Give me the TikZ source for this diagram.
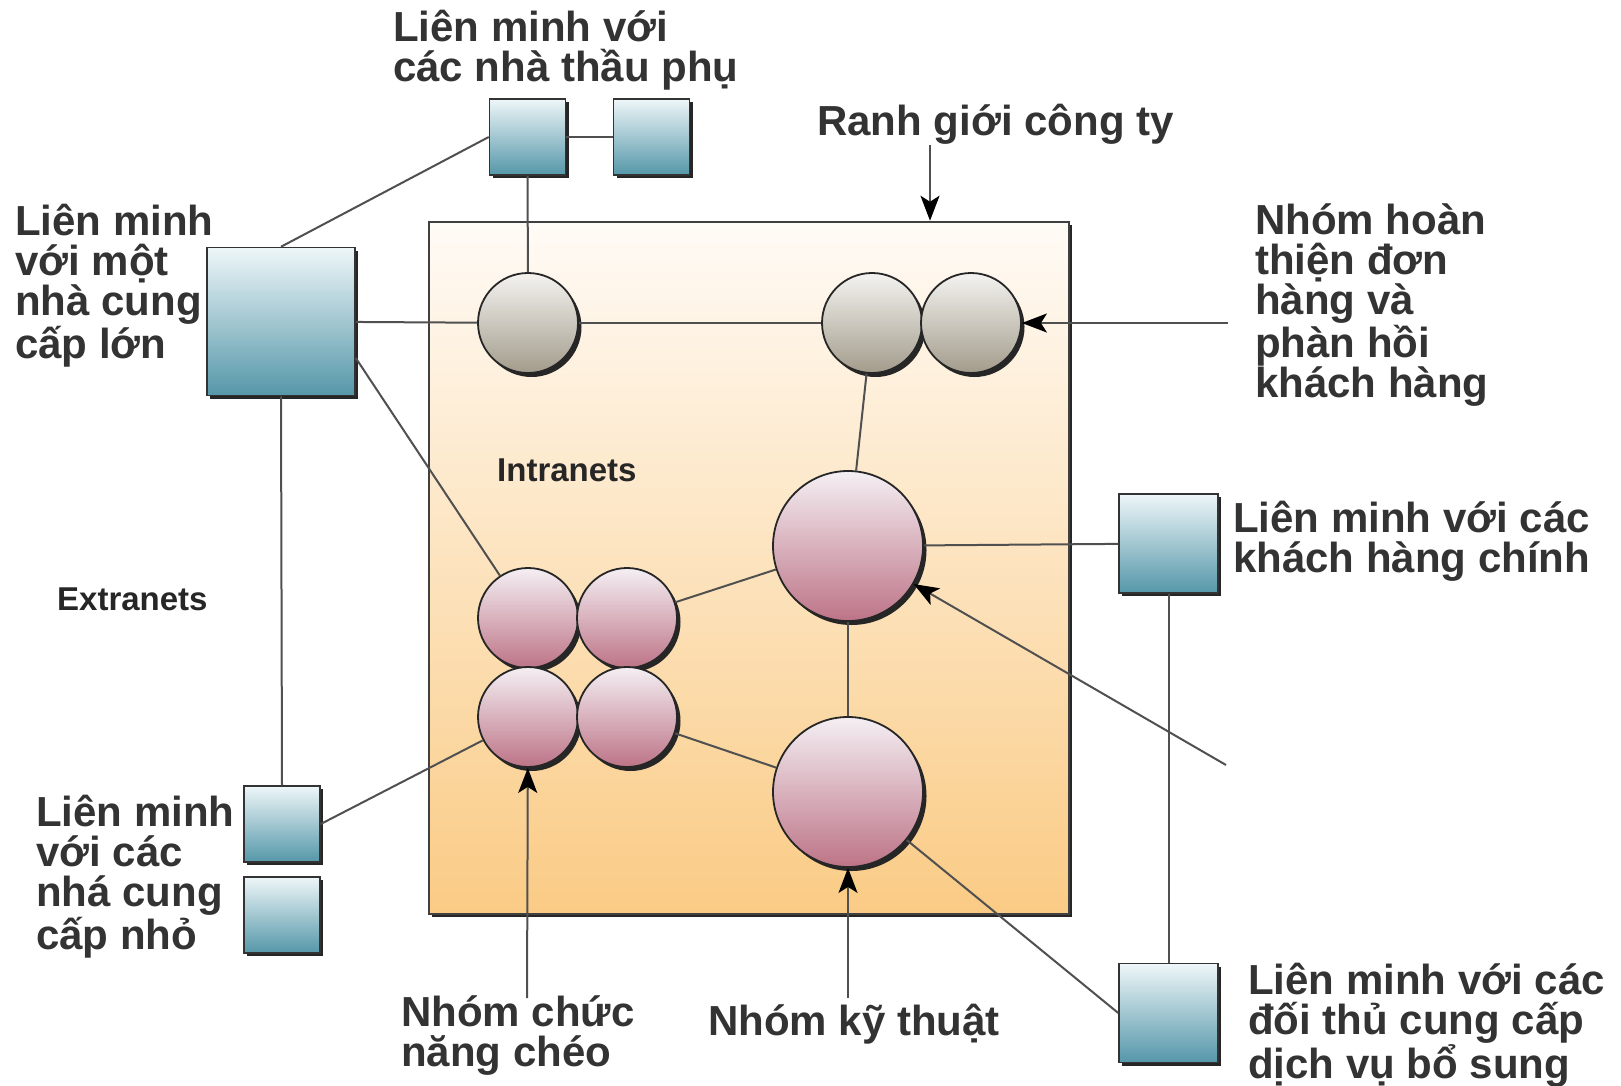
\documentclass[tikz,border=0pt]{standalone}
\usepackage{fontspec}
\setmainfont{Liberation Sans}
\usetikzlibrary{arrows.meta,shadows}
\definecolor{txt}{HTML}{333333}
\definecolor{lin}{HTML}{505050}
\definecolor{boxTop}{HTML}{EEF6F8}
\definecolor{boxBot}{HTML}{5597A9}
\definecolor{greyTop}{HTML}{F4F3F0}
\definecolor{greyBot}{HTML}{A39C8C}
\definecolor{pinkTop}{HTML}{F4EFF3}
\definecolor{pinkBot}{HTML}{BD7487}
\definecolor{coTop}{HTML}{FFFBF6}
\definecolor{coBot}{HTML}{FACB85}
\tikzset{
  shad/.style={drop shadow={shadow xshift=3pt,shadow yshift=-3pt,opacity=1,fill=black!85}},
  cshad/.style={drop shadow={shadow xshift=3.5pt,shadow yshift=-4pt,opacity=1,fill=black!85}},
  cobox/.style={rectangle,draw=black!75,line width=2.5pt,top color=coTop,bottom color=coBot,
    minimum width=640pt,minimum height=692pt,inner sep=0pt,
    drop shadow={shadow xshift=2.5pt,shadow yshift=-2.5pt,opacity=1,fill=black!85}},
  bluebox/.style={rectangle,draw=black!80,line width=1.5pt,top color=boxTop,bottom color=boxBot,
    minimum size=#1,inner sep=0pt,shad},
  greyc/.style={circle,draw=black!85,line width=1.8pt,top color=greyTop,bottom color=greyBot,
    minimum size=100pt,inner sep=0pt,cshad},
  pinkc/.style={circle,draw=black!85,line width=1.8pt,top color=pinkTop,bottom color=pinkBot,
    minimum size=#1,inner sep=0pt,cshad},
  conn/.style={draw=lin,line width=2pt},
  arr/.style={draw=lin,line width=2pt,-{Stealth[length=25pt,width=19pt,inset=6pt,fill=black,color=black]}},
  lbl/.style={font=\fontsize{42}{40}\selectfont\bfseries,text=txt,align=left,anchor=base west,inner sep=0pt},
  smalllbl/.style={font=\fontsize{33}{34}\selectfont\bfseries,text=black!85,anchor=base west,inner sep=0pt}
}
\begin{document}
\begin{tikzpicture}[x=1pt,y=-1pt]
\useasboundingbox[fill=white] (0,0) rectangle (1621,1086);

% company boundary
\node[cobox] (co) at (749,568) {};

% nodes
\node[bluebox=148pt] (big) at (281,321.5) {};
\node[bluebox=76pt] (t1) at (527.5,137) {};
\node[bluebox=76pt] (t2) at (651.5,137) {};
\node[bluebox=76pt] (s1) at (282,824) {};
\node[bluebox=76pt] (s2) at (282,915) {};
\node[bluebox=99pt] (cust) at (1168.5,543.5) {};
\node[bluebox=99pt] (comp) at (1168.5,1013) {};

\node[greyc] (g1) at (528,323) {};
\node[greyc] (gA) at (872,323) {};
\node[greyc] (gB) at (971,323) {};

\node[pinkc=150pt] (pT) at (848,546) {};
\node[pinkc=150pt] (pB) at (848,792) {};
\node[pinkc=100pt] (pTL) at (528,618) {};
\node[pinkc=100pt] (pTR) at (627,618) {};
\node[pinkc=100pt] (pBL) at (528,717) {};
\node[pinkc=100pt] (pBR) at (627,717) {};

% connectors
\draw[conn] (big) -- (g1);
\draw[conn] (g1) -- (gA);
\draw[conn] (big.north) -- (t1.west);
\draw[conn] (t1) -- (t2);
\draw[conn] (t1) -- (g1);
\draw[conn] (big.-26) -- (pTL);
\draw[conn] (big.south) -- (s1.north);
\draw[conn] (s1.east) -- (pBL);
\draw[conn] (pTR) -- (pT);
\draw[conn] (pBR) -- (pB);
\draw[conn] (pT) -- (pB);
\draw[conn] (pT) -- (gA);
\draw[conn] (pT) -- (cust);
\draw[conn] (cust) -- (comp);
\draw[conn] (pB) -- (comp.west);

% arrows
\coordinate (rgTail) at (930,145);
\coordinate (ordTail) at (1228,323);
\coordinate (ccTail) at (1226,765);
\coordinate (cfTail) at (527,998);
\coordinate (ktTail) at (848,998);
\draw[arr] (rgTail) -- (rgTail |- co.north);
\draw[arr] (ordTail) -- (gB);
\draw[arr] (ccTail) -- (pT);
\draw[arr] (cfTail) -- (pBL);
\draw[arr] (ktTail) -- (pB);

% labels (base = baseline of last line)
\node[lbl] (lSub) at (393,82) {Liên minh với\\các nhà thầu phụ};
\node[lbl] (lBig) at (15,358) {Liên minh\\với một\\nhà cung\\cấp lớn};
\node[lbl] (lRG) at (817,136) {Ranh giới công ty};
\node[lbl] (lOrd) at (1255,397) {Nhóm hoàn\\thiện đơn\\hàng và\\phàn hồi\\khách hàng};
\node[lbl] (lCust) at (1233,572) {Liên minh với các\\khách hàng chính};
\node[lbl] (lSmall) at (36,949) {Liên minh\\với các\\nhá cung\\cấp nhỏ};
\node[lbl] (lCross) at (401,1066) {Nhóm chức\\năng chéo};
\node[lbl] (lTech) at (708,1035) {Nhóm kỹ thuật};
\node[lbl] (lComp) at (1248,1078) {Liên minh với các\\đối thủ cung cấp\\dịch vụ bổ sung};
\node[smalllbl] (lIn) at (497,481) {Intranets};
\node[smalllbl] (lEx) at (57,610) {Extranets};
\end{tikzpicture}
\end{document}
